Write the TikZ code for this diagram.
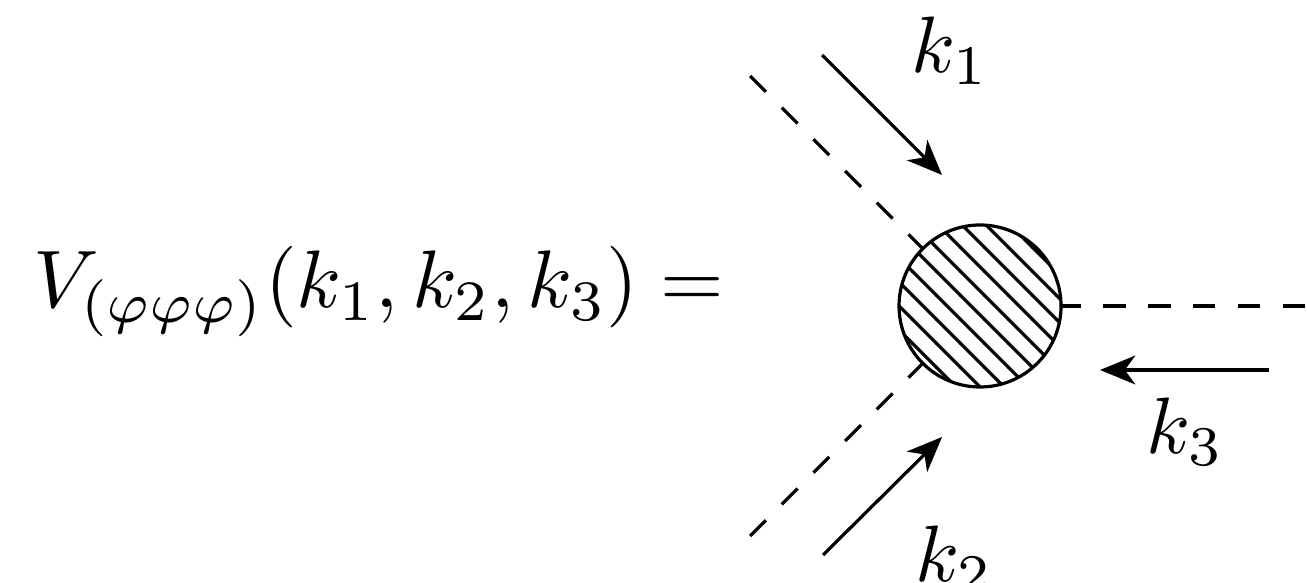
\documentclass[tikz,border=0pt]{standalone}
\usepackage{amsmath, amssymb}
\usetikzlibrary{arrows.meta, patterns}

\begin{document}
\begin{tikzpicture}[
  x=0.125pt, y=-0.125pt,
  prop/.style={dash pattern=on 2.8pt off 2.8pt},
  mom/.style={-{Stealth[length=4.4pt, width=3.6pt, inset=1.3pt]}},
  blob/.style={circle, draw, minimum size=20.25pt, inner sep=0pt, fill=white, postaction={pattern=north west lines}},
  lab/.style={anchor=base west, inner sep=0pt}
]
  \useasboundingbox (0,0) rectangle (1307,583);
  % vertex and external legs
  \coordinate (c) at (980,306);
  \coordinate (e1) at (750,76);
  \coordinate (e2) at (750,536);
  \coordinate (e3) at (1305,306);
  \draw[prop] (e1) -- (c);
  \draw[prop] (e2) -- (c);
  \draw[prop] (e3) -- (c);
  \node[blob] (v) at (c) {};
  % momenta
  \coordinate (p1s) at (822,55);  \coordinate (p1e) at (942,175);
  \coordinate (p2s) at (823,555); \coordinate (p2e) at (942,437);
  \coordinate (p3s) at (1269,370); \coordinate (p3e) at (1100,370);
  \draw[mom] (p1s) -- (p1e);
  \draw[mom] (p2s) -- (p2e);
  \draw[mom] (p3s) -- (p3e);
  \node[lab] (k1) at (910,73) {$k_1$};
  \node[lab] (k2) at (914,581) {$k_2$};
  \node[lab] (k3) at (1145,454) {$k_3$};
  \node[lab, scale=1.02] (vert) at (32,308) {$V_{(\varphi\varphi\varphi)}(k_1,k_2,k_3)=$};
\end{tikzpicture}
\end{document}
